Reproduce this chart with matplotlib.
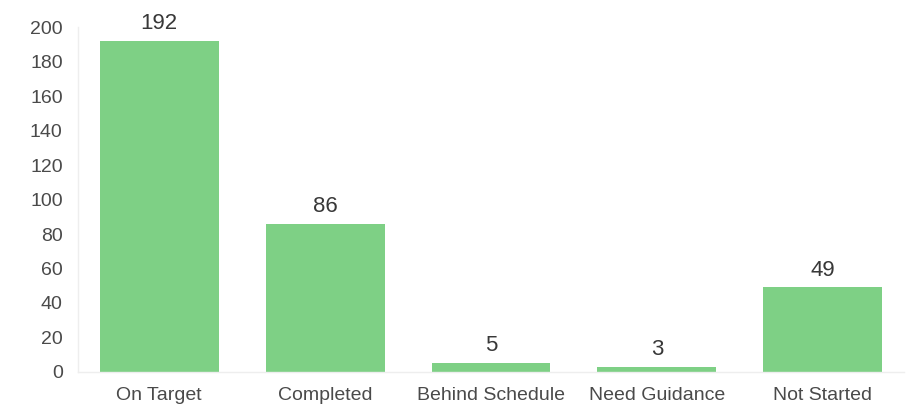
import matplotlib
matplotlib.use("Agg")
import matplotlib.pyplot as plt

categories = ["On Target", "Completed", "Behind Schedule", "Need Guidance", "Not Started"]
counts = [192, 86, 5, 3, 49]
yticks = [0, 20, 40, 60, 80, 100, 120, 140, 160, 180, 200]

plt.rcParams["font.family"] = ["Liberation Sans", "DejaVu Sans"]

fig = plt.figure(figsize=(9.08, 4.05), dpi=100)
ax = fig.add_axes([0.0859, 0.0815, 0.9097, 0.8518])

x = list(range(len(categories)))
bars = ax.bar(x, counts, width=0.717, color="#7ed085")

for b, v in zip(bars, counts):
    ax.annotate(str(v), (b.get_x() + b.get_width() / 2, v),
                xytext=(0, 5), textcoords="offset points",
                ha="center", va="bottom", fontsize=16, color="#383838")

ax.set_xlim(-0.49, 4.49)
ax.set_ylim(0, 200)
ax.set_yticks(yticks)
ax.set_xticks(x)
ax.set_xticklabels(categories)
ax.tick_params(axis="both", length=0, labelsize=14, colors="#4a4a4a")
ax.tick_params(axis="y", pad=11)
ax.tick_params(axis="x", pad=11)

for side in ["top", "right"]:
    ax.spines[side].set_visible(False)
for side in ["left", "bottom"]:
    ax.spines[side].set_color("#eeeeee")
    ax.spines[side].set_linewidth(1)

fig.savefig("out.png", dpi=100)
